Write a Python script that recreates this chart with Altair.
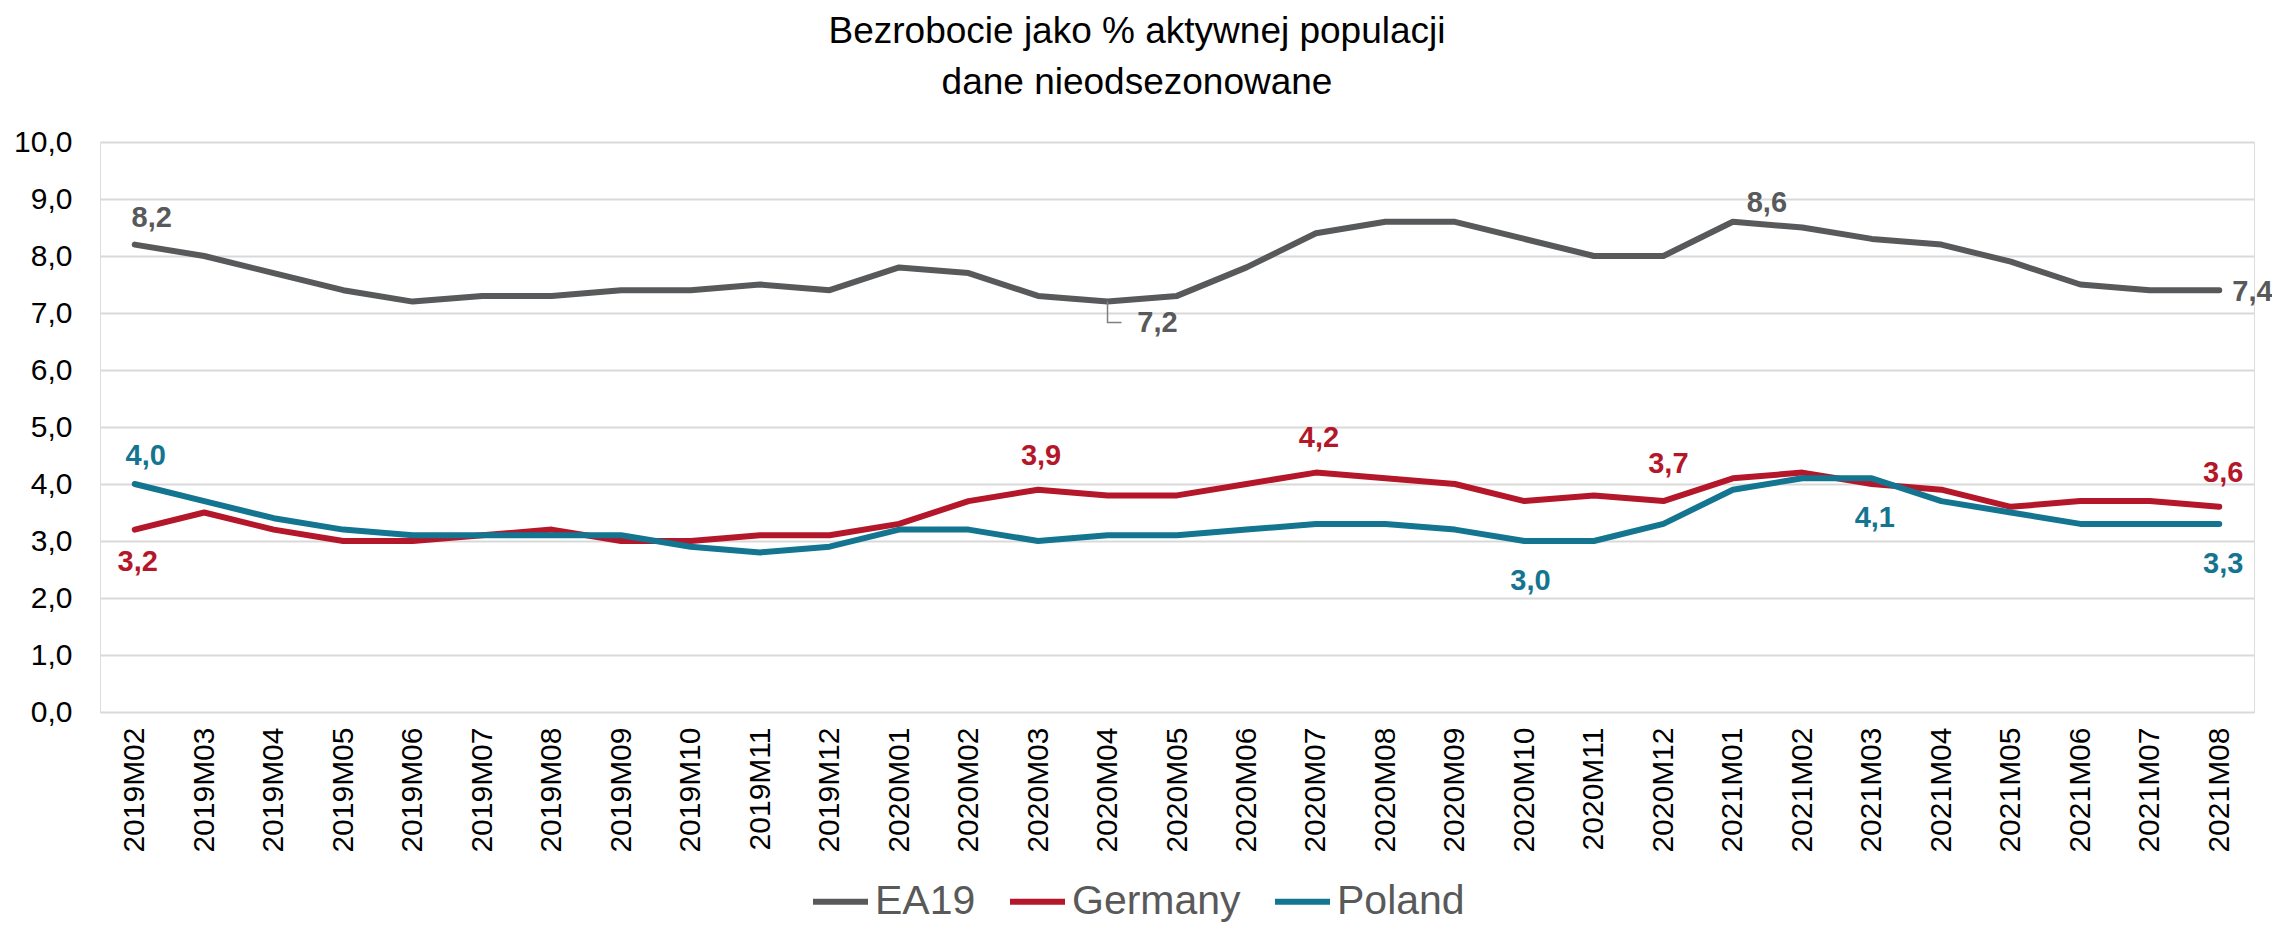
import altair as alt
import pandas as pd

months = ["2019M02", "2019M03", "2019M04", "2019M05", "2019M06", "2019M07", "2019M08",
          "2019M09", "2019M10", "2019M11", "2019M12", "2020M01", "2020M02", "2020M03",
          "2020M04", "2020M05", "2020M06", "2020M07", "2020M08", "2020M09", "2020M10",
          "2020M11", "2020M12", "2021M01", "2021M02", "2021M03", "2021M04", "2021M05",
          "2021M06", "2021M07", "2021M08"]
ea19 = [8.2, 8.0, 7.7, 7.4, 7.2, 7.3, 7.3, 7.4, 7.4, 7.5, 7.4, 7.8, 7.7, 7.3, 7.2, 7.3,
        7.8, 8.4, 8.6, 8.6, 8.3, 8.0, 8.0, 8.6, 8.5, 8.3, 8.2, 7.9, 7.5, 7.4, 7.4]
germany = [3.2, 3.5, 3.2, 3.0, 3.0, 3.1, 3.2, 3.0, 3.0, 3.1, 3.1, 3.3, 3.7, 3.9, 3.8, 3.8,
           4.0, 4.2, 4.1, 4.0, 3.7, 3.8, 3.7, 4.1, 4.2, 4.0, 3.9, 3.6, 3.7, 3.7, 3.6]
poland = [4.0, 3.7, 3.4, 3.2, 3.1, 3.1, 3.1, 3.1, 2.9, 2.8, 2.9, 3.2, 3.2, 3.0, 3.1, 3.1,
          3.2, 3.3, 3.3, 3.2, 3.0, 3.0, 3.3, 3.9, 4.1, 4.1, 3.7, 3.5, 3.3, 3.3, 3.3]
series_names = ["EA19", "Germany", "Poland"]
colors = ["#58595B", "#B5172A", "#147590"]
title_lines = ["Bezrobocie jako % aktywnej populacji", "dane nieodsezonowane"]

# which points carry a data label: (series, month)
labelled = [
    ("EA19", "2019M02"), ("EA19", "2020M04"), ("EA19", "2021M01"), ("EA19", "2021M08"),
    ("Germany", "2019M02"), ("Germany", "2020M03"), ("Germany", "2020M07"),
    ("Germany", "2020M12"), ("Germany", "2021M08"),
    ("Poland", "2019M02"), ("Poland", "2020M10"), ("Poland", "2021M03"), ("Poland", "2021M08"),
]
# label placement styles (dx, dy, align), same order as 'labelled'
label_style = [
    (17, -27, "center"), (50, 21, "center"), (34, -19, "center"), (13, 2, "left"),
    (3, 32, "center"), (3, -34, "center"), (3, -35, "center"), (5, -37, "center"), (4, -34, "center"),
    (11, -28, "center"), (6, 40, "center"), (3, 40, "center"), (4, 40, "center"),
]

rows = []
for name, vals in zip(series_names, [ea19, germany, poland]):
    for m, v in zip(months, vals):
        rows.append({"month": m, "series": name, "value": v})
df = pd.DataFrame(rows)

FONT = "Liberation Sans, Arial, sans-serif"
PW, PH = 2154, 570

x_enc = alt.X("month:O", sort=months, scale=alt.Scale(type="point", padding=0.5),
              axis=alt.Axis(title=None, labelAngle=270, labelFont=FONT, labelFontSize=30,
                            labelColor="#000000", labelPadding=15, ticks=False, domain=False,
                            grid=False))
y_enc = alt.Y("value:Q", scale=alt.Scale(domain=[0, 10], nice=False, zero=True),
              axis=alt.Axis(title=None, values=list(range(0, 11)),
                            labelExpr="replace(format(datum.value, '.1f'), '.', ',')",
                            labelFont=FONT, labelFontSize=30, labelColor="#000000",
                            labelPadding=28, ticks=False, domain=False,
                            grid=True, gridColor="#D9D9D9", gridWidth=2))

base = alt.Chart(df)

lines = base.mark_line(strokeWidth=6, strokeJoin="round", strokeCap="round").encode(
    x=x_enc, y=y_enc,
    color=alt.Color("series:N", scale=alt.Scale(domain=series_names, range=colors),
                    legend=alt.Legend(orient="none", legendX=710, legendY=729,
                                      direction="horizontal", title=None,
                                      symbolType="stroke", symbolSize=3025,
                                      symbolStrokeWidth=6, labelFontSize=41,
                                      labelFont=FONT, labelColor="#595959",
                                      labelLimit=0,
                                      columnPadding=22, labelOffset=4, padding=0)),
)

layers = [lines]
for (s, m), (dx, dy, al) in zip(labelled, label_style):
    col = colors[series_names.index(s)]
    t = base.transform_filter(
        (alt.datum.series == s) & (alt.datum.month == m)
    ).transform_calculate(
        lbl="replace(format(datum.value, '.1f'), '.', ',')"
    ).mark_text(dx=dx, dy=dy, align=al, baseline="middle", font=FONT, fontSize=29,
                fontWeight="bold", color=col).encode(
        x=alt.X("month:O", sort=months), y=alt.Y("value:Q"), text="lbl:N")
    layers.append(t)

# leader line for the EA19 2020M04 label
leader = base.transform_filter(
    (alt.datum.series == "EA19") & (alt.datum.month == "2020M04")
).mark_point(shape="M0,-1L0,1L1.33,1", size=441, filled=False, stroke="#7F7F7F",
             strokeWidth=1.5, opacity=1, yOffset=10.5).encode(
    x=alt.X("month:O", sort=months), y=alt.Y("value:Q"))
layers.append(leader)

chart = alt.layer(*layers).properties(
    width=PW, height=PH,
    autosize=alt.AutoSizeParams(type="none"),
    padding={"left": 92, "top": 134, "right": 18, "bottom": 213},
    title=alt.TitleParams(text=title_lines, font=FONT, fontSize=37, fontWeight="normal",
                          color="#000000", anchor="middle", dx=-40, lineHeight=51,
                          offset=25),
).configure_view(stroke=None).configure(background="white")

chart.save("out.html", embed_options={"renderer": "svg", "actions": False})
